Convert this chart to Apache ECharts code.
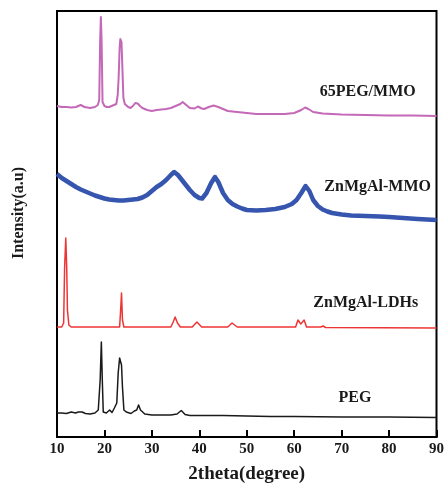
<!DOCTYPE html>
<html>
<head>
<meta charset="utf-8">
<script src="https://cdn.jsdelivr.net/npm/echarts@6/dist/echarts.min.js"></script>
<style>
html,body{margin:0;padding:0;background:#fff;}
#chart{width:447px;height:494px;}
</style>
</head>
<body>
<div id="chart"></div>
<script>
// X axis ticks (2theta, degree)
var xTicks = [10, 20, 30, 40, 50, 60, 70, 80, 90];
var seriesNames = ['65PEG/MMO', 'ZnMgAl-MMO', 'ZnMgAl-LDHs', 'PEG'];

// [2theta, intensity (a.u., stacked with offsets)]
var pegMmoData = [
  [10,331],[11,330],[12,330],[13,329.5],[14,330],[15,332],[15.3,333],[15.8,330],[16,329],[17,329],
  [18,330],[18.6,332],[18.9,337],[19.1,397],[19.25,420],[19.4,397],[19.6,335],[20,331],[20.5,330],
  [21,330],[21.5,331],[22,332],[22.5,333],[22.8,342],[23.0,360],[23.2,389],[23.35,398],[23.6,395],
  [23.8,367],[24.0,339],[24.3,333],[25,330],[25.5,329],[26,331],[26.5,334],[27,333.5],[27.5,331],
  [28,329],[29,327],[30,326],[31,327],[32,327.5],[33,328],[34,329],[35,331],[36,333],[36.5,335],
  [37,333],[38,329],[39,328.5],[39.7,330.5],[40.5,328.5],[41,328],[42,330],[43,331.5],[44,330],
  [45,328],[46,326],[48,325],[50,324],[52,323],[55,323],[58,323],[60,324],[61.5,327],[62.3,329.5],
  [63,328],[64,325],[66,323.5],[70,322.5],[75,322],[80,321.5],[85,321.5],[90,321]
];
var mmoData = [
  [10,263],[11,259],[12,256],[13,253],[14,250],[15,247.5],[16,245.5],[17,243.5],[18,241.5],[19,240],
  [20,238.5],[21,237.5],[22,237],[23,236.5],[24,236.5],[25,237],[26,237.5],[27,238],[28,239.5],
  [29,242],[30,246],[31,250],[32,253],[33,257],[34,262],[34.7,265],[35.5,262],[36,259],[37,253],
  [38,247],[39,242],[40,239],[40.6,238.5],[41.5,244],[42.5,254],[43.3,260],[44,255],[45,244],
  [46,237],[47,233],[48,230.5],[49,228.5],[50,227],[52,226.5],[54,227],[56,228],[58,230],[59.5,233],
  [60.5,237],[61.5,244],[62.4,251],[63.2,246],[64,237],[65,231],[66,227.5],[67,225.5],[68,224],
  [70,222.5],[72,221.5],[75,221],[78,220.5],[80,220],[83,219],[86,218],[90,217]
];
var ldhData = [
  [10,110],[11,110],[11.4,114],[11.6,169],[11.85,199],[12.05,169],[12.2,127],[12.5,112],[13,110],
  [23.2,110],[23.45,130],[23.6,144],[23.8,117],[24.1,110],[34,110],[34.5,115],[34.9,120],[35.4,114],
  [36,110],[38.5,110],[39.5,115],[40.5,110],[46,110],[46.9,114],[48,110],[60.3,110],[60.8,117],
  [61.4,113],[62.1,117],[62.6,110],[65.6,110],[66.1,111],[66.6,109.5],[90,109]
];
var pegData = [
  [10,24],[11,24],[12,23.5],[13,25],[13.4,27],[13.9,24],[14.5,25],[14.8,26.5],[15.3,25],[16,23.5],
  [17,23],[18,24],[18.7,27],[19.1,57],[19.35,95],[19.55,57],[19.75,25],[20.4,24],[21.1,27],[21.6,24.5],
  [22.1,29],[22.6,34],[22.9,64],[23.2,79],[23.45,78],[23.6,72],[23.8,50],[24.1,27],[24.6,25],
  [25.6,23.5],[26.3,26],[26.8,27],[27.2,32],[27.6,27],[28,25],[28.5,23],[30,22],[32,22],[34,22],
  [35.3,23],[36.2,26.5],[37,22.5],[38,21.5],[40,21.5],[45,21.5],[50,21],[55,20.5],[60,20.5],
  [70,20],[80,20],[90,19.5]
];
// label anchor coordinates (data units)
var labelAnchors = [[75.5,345],[77.6,250],[75.1,134],[72.8,39]];

var colors = ['#c468b8', '#3555ae', '#ee3535', '#1a1a1a'];
var widths = [2, 4.5, 1.5, 1.5];
var datasets = [pegMmoData, mmoData, ldhData, pegData];

var serif = '"Liberation Serif", "DejaVu Serif", serif';

var chart = echarts.init(document.getElementById('chart'), null, {renderer: 'canvas'});
var series = seriesNames.map(function (name, i) {
  return {
    name: name,
    type: 'line',
    data: datasets[i],
    showSymbol: false,
    symbol: 'none',
    smooth: false,
    animation: false,
    lineStyle: {color: colors[i], width: widths[i], join: 'round'},
    markPoint: {
      symbol: 'circle',
      symbolSize: 0,
      data: [{coord: labelAnchors[i], value: name}],
      label: {
        show: true,
        position: 'inside',
        formatter: name,
        fontFamily: serif,
        fontWeight: 'bold',
        fontSize: 16,
        color: '#1a1a1a'
      },
      animation: false
    }
  };
});

chart.setOption({
  animation: false,
  backgroundColor: '#fff',
  grid: {left: 57, right: 8, top: 11, bottom: 57, show: true, borderColor: '#000', borderWidth: 2, backgroundColor: 'transparent'},
  xAxis: {
    type: 'value',
    min: xTicks[0],
    max: xTicks[xTicks.length - 1],
    interval: 10,
    name: '2theta(degree)',
    nameLocation: 'middle',
    nameGap: 28,
    nameTextStyle: {fontFamily: serif, fontWeight: 'bold', fontSize: 19, color: '#1a1a1a'},
    axisLine: {show: true, lineStyle: {color: '#000', width: 2}},
    axisTick: {show: true, inside: true, length: 7, lineStyle: {color: '#000', width: 2}},
    axisLabel: {fontFamily: serif, fontWeight: 'bold', fontSize: 15, color: '#1a1a1a', margin: 5},
    splitLine: {show: false}
  },
  yAxis: {
    type: 'value',
    min: 0,
    max: 426,
    name: 'Intensity(a.u)',
    nameLocation: 'middle',
    nameRotate: 90,
    nameGap: 30,
    nameTextStyle: {fontFamily: serif, fontWeight: 'bold', fontSize: 16, color: '#1a1a1a', padding: [0, 0, 0, 22]},
    axisLine: {show: true, lineStyle: {color: '#000', width: 2}},
    axisTick: {show: false},
    axisLabel: {show: false},
    splitLine: {show: false}
  },
  series: series
});
</script>
</body>
</html>
